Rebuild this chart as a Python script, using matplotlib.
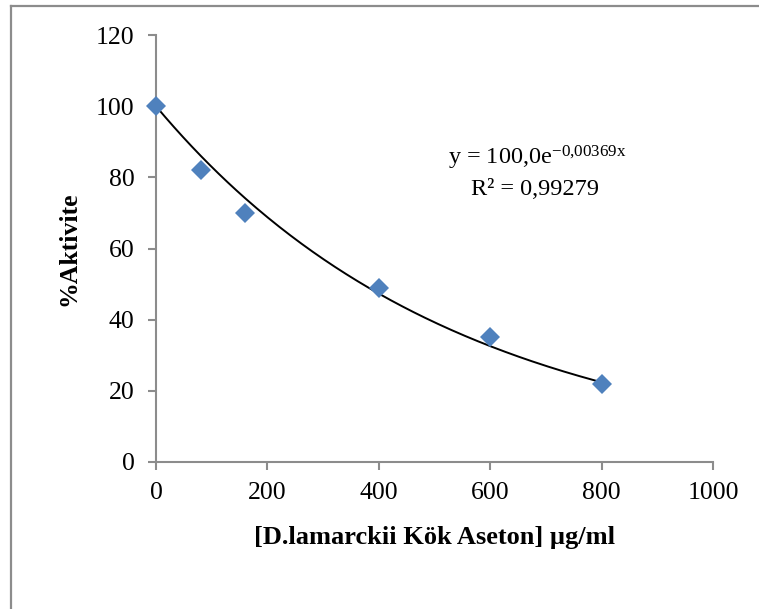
import numpy as np
import matplotlib
matplotlib.use("Agg")
import matplotlib.pyplot as plt
from matplotlib.lines import Line2D

plt.rcParams['font.family'] = ['Liberation Serif', 'DejaVu Serif']
plt.rcParams['mathtext.fontset'] = 'custom'
plt.rcParams['mathtext.rm'] = 'Liberation Serif'
plt.rcParams['mathtext.it'] = 'Liberation Serif:italic'
plt.rcParams['mathtext.bf'] = 'Liberation Serif:bold'

# Konsantrasyon (µg/ml) ve % aktivite
konsantrasyon = [0, 80, 160, 400, 600, 800]
aktivite = [100, 82, 70, 49, 35, 22]

# Grafikteki üstel eğilim çizgisi: y = a * e^(b x)
a_katsayi = 100.0
b_katsayi = -0.00187
denklem = r'y = 100,0e$^{\mathregular{-0{,}00369x}}$'
r2_metin = 'R² = 0,99279'

x_ticks = [0, 200, 400, 600, 800, 1000]
y_ticks = [0, 20, 40, 60, 80, 100, 120]

fig = plt.figure(figsize=(7.59, 6.09), dpi=100)
ax = fig.add_axes([0.2055, 0.2414, 0.7339, 0.7011])

gri = '#8c8c8c'

xs = np.linspace(0, 800, 200)
ax.plot(xs, a_katsayi * np.exp(b_katsayi * xs), color='black', lw=1.4, zorder=2)
ax.plot(konsantrasyon, aktivite, 'D', color='#4f81bd', markersize=10,
        markeredgewidth=0, zorder=3, clip_on=False)

ax.set_xlim(0, 1000)
ax.set_ylim(0, 120)
ax.set_xticks(x_ticks)
ax.set_yticks(y_ticks)

for s in ['top', 'right']:
    ax.spines[s].set_visible(False)
for s in ['left', 'bottom']:
    ax.spines[s].set_color(gri)
    ax.spines[s].set_linewidth(1.5)
ax.tick_params(axis='both', direction='out', length=5.5, width=1.5, color=gri,
               labelsize=18.5)
ax.tick_params(axis='y', pad=10)
ax.tick_params(axis='x', pad=9)

ax.set_xlabel('[D.lamarckii Kök Aseton] µg/ml', fontsize=19, fontweight='bold',
              va='center')
ax.xaxis.set_label_coords(0.5, -0.176)
ax.set_ylabel('%Aktivite', fontsize=18.5, fontweight='bold', va='center')
ax.yaxis.set_label_coords(-0.156, 0.5)

ax.text(0.684, 0.696, denklem, transform=ax.transAxes,
        ha='center', va='baseline', fontsize=17.5)
ax.text(0.680, 0.625, r2_metin, transform=ax.transAxes,
        ha='center', va='baseline', fontsize=17.5)

# çerçeve (sol ve üst kenar)
fig.add_artist(Line2D([11 / 759, 11 / 759], [0, 1 - 6 / 609], color=gri, lw=1.6))
fig.add_artist(Line2D([11 / 759, 1], [1 - 6 / 609, 1 - 6 / 609], color=gri, lw=1.6))

fig.savefig('out.png', dpi=100)
